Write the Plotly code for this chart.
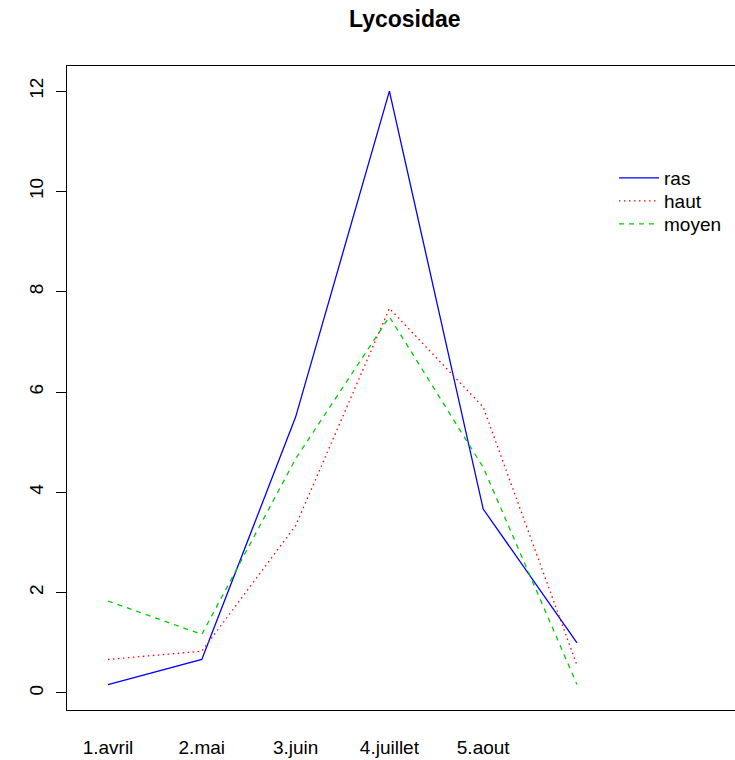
import plotly.graph_objects as go

months = ["1.avril", "2.mai", "3.juin", "4.juillet", "5.aout"]
x_index = [1, 2, 3, 4, 5, 6]
ras = [0.167, 0.667, 5.5, 12.0, 3.667, 1.0]
haut = [0.667, 0.833, 3.333, 7.667, 5.7, 0.55]
moyen = [1.833, 1.167, 4.667, 7.5, 4.5, 0.167]
y_ticks = [0, 2, 4, 6, 8, 10, 12]

FONT = "Liberation Sans, Arial, sans-serif"
W, H = 735, 760
PL, PR, PT, PB = 67, 735, 66, 710  # plot box in window pixels
L, T = PL, PT
R = W - PR
B = H - PB
pw, ph = PR - PL, PB - PT


def px_x(x):
    return (x - PL) / pw


def px_y(y):
    return (PB - y) / ph


fig = go.Figure()
fig.add_trace(go.Scatter(x=x_index, y=ras, mode="lines", name="ras", legend="legend",
                         line=dict(color="#0000FF", width=1.3)))
fig.add_trace(go.Scatter(x=x_index, y=haut, mode="lines", name="haut", legend="legend2",
                         line=dict(color="#FF0000", width=1.3, dash="1.5px,3.5px")))
fig.add_trace(go.Scatter(x=x_index, y=moyen, mode="lines", name="moyen", legend="legend3",
                         line=dict(color="#00CD00", width=1.3, dash="5px,5px")))


def leg(ypix):
    return dict(x=px_x(614), y=px_y(ypix), xanchor="left", yanchor="middle",
                bgcolor="rgba(0,0,0,0)", font=dict(size=19, family=FONT, color="black"),
                itemwidth=40)


fig.update_layout(
    width=W, height=H,
    margin=dict(l=L, r=R, t=T, b=B, pad=0, autoexpand=False),
    paper_bgcolor="white", plot_bgcolor="white",
    font=dict(family=FONT, size=19, color="black"),
    showlegend=True,
    legend=leg(178), legend2=leg(201), legend3=leg(224),
    annotations=[dict(text="<b>Lycosidae</b>", x=px_x(405), y=px_y(19), xref="paper", yref="paper",
                      yanchor="middle", xanchor="center", showarrow=False,
                      font=dict(size=23, family=FONT, color="black"))],
)
fig.update_xaxes(range=[0.563, 1 + (PR - 108) / 93.8], tickvals=[1, 2, 3, 4, 5], ticktext=months,
                 ticks="", showgrid=False, zeroline=False, showline=True, mirror=True,
                 linecolor="black", linewidth=1, ticklabelstandoff=20,
                 tickfont=dict(size=19, family=FONT))
fig.update_yaxes(range=[-0.34, 12.5], tickvals=y_ticks, ticks="outside", ticklen=10,
                 tickcolor="black", tickwidth=1, showgrid=False, zeroline=False,
                 showline=True, linecolor="black", linewidth=1, tickangle=-90,
                 ticklabelstandoff=5, tickfont=dict(size=19, family=FONT))

fig.write_html(
    "out.html",
    config={"displayModeBar": False},
    post_script="document.body.style.margin='0';document.body.style.overflow='hidden';",
)
